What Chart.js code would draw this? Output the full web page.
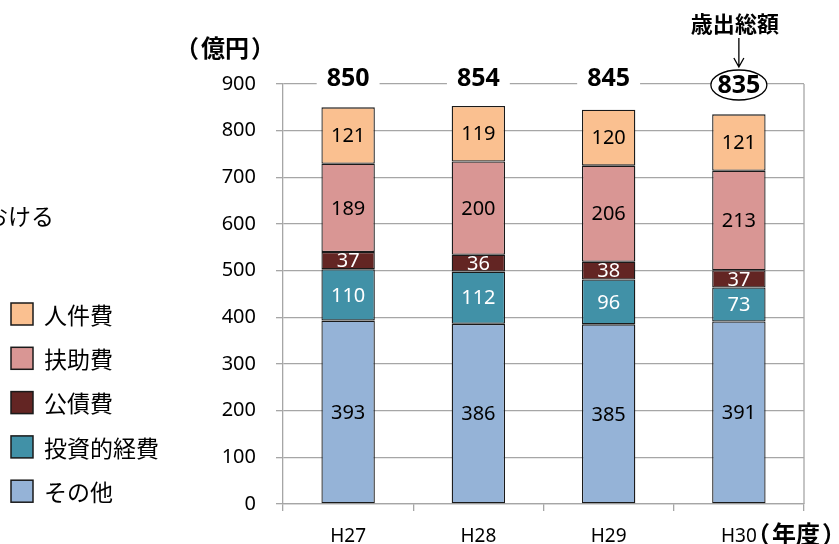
<!DOCTYPE html>
<html>
<head>
<meta charset="utf-8">
<script src="https://cdn.jsdelivr.net/npm/chart.js@4.4.1/dist/chart.umd.min.js"></script>
<style>
  html, body { margin: 0; padding: 0; background: #ffffff; }
  #wrap { width: 839px; height: 544px; position: relative; }
</style>
</head>
<body>
<div id="wrap"><canvas id="chart"></canvas></div>
<script>
// 年度
const years = ['H27', 'H28', 'H29', 'H30'];

// 性質別歳出（億円）
const sonota   = [393, 386, 385, 391]; // その他
const toushi   = [110, 112, 96, 73];   // 投資的経費
const kousai   = [37, 36, 38, 37];     // 公債費
const fujo     = [189, 200, 206, 213]; // 扶助費
const jinken   = [121, 119, 120, 121]; // 人件費

// 歳出総額（億円）
const totals = [850, 854, 845, 835];

// 縦軸の目盛
const yTicks = [0, 100, 200, 300, 400, 500, 600, 700, 800, 900];

const NUM_FONT = "'Noto Sans', 'Liberation Sans', sans-serif";
const JP_FONT = "'Noto Sans CJK JP', 'Noto Sans', sans-serif";
const GRID = '#a6a6a6';
const EDGE = '#1a1a1a';

const series = [
  { label: 'その他',     data: sonota, color: '#95b3d7', text: '#000000' },
  { label: '投資的経費', data: toushi, color: '#4191a7', text: '#ffffff' },
  { label: '公債費',     data: kousai, color: '#632523', text: '#ffffff' },
  { label: '扶助費',     data: fujo,   color: '#d99694', text: '#000000' },
  { label: '人件費',     data: jinken, color: '#fac090', text: '#000000' }
];

// 全角かっこで囲んだ見出しを詰めて書く（left は本文の左端）
function drawBracketed(ctx, word, left, y) {
  const w = ctx.measureText(word).width;
  ctx.textAlign = 'left';
  ctx.fillText(word, left, y);
  ctx.textAlign = 'right';
  ctx.fillText('（', left - 2, y);
  ctx.textAlign = 'left';
  ctx.fillText('）', left + w + 2, y);
  return w;
}

// 各区分の値を棒の中央に書く
const segmentLabels = {
  id: 'segmentLabels',
  afterDatasetsDraw(chart) {
    const ctx = chart.ctx;
    ctx.save();
    ctx.font = '20px ' + NUM_FONT;
    ctx.textAlign = 'center';
    ctx.textBaseline = 'middle';
    chart.data.datasets.forEach((ds, i) => {
      const meta = chart.getDatasetMeta(i);
      meta.data.forEach((bar, j) => {
        const cy = (bar.y + bar.base) / 2;
        ctx.fillStyle = series[i].text;
        ctx.fillText(String(ds.data[j]), bar.x, cy + 1);
      });
    });
    ctx.restore();
  }
};

// 枠線・総額・見出し・凡例
const decorations = {
  id: 'decorations',
  afterDraw(chart) {
    const ctx = chart.ctx;
    const area = chart.chartArea;
    const xs = chart.scales.x;
    const ys = chart.scales.y;
    ctx.save();

    // プロット領域の右端
    ctx.strokeStyle = GRID;
    ctx.lineWidth = 1.3;
    ctx.beginPath();
    ctx.moveTo(area.right, area.top);
    ctx.lineTo(area.right, area.bottom);
    ctx.stroke();

    // 歳出総額
    const topY = ys.getPixelForValue(yTicks[yTicks.length - 1]);
    ctx.font = 'bold 25px ' + NUM_FONT;
    ctx.textAlign = 'center';
    ctx.textBaseline = 'middle';
    totals.forEach((t, i) => {
      const cx = xs.getPixelForValue(i);
      const txt = String(t);
      const w = ctx.measureText(txt).width;
      const last = i === totals.length - 1;
      if (last) {
        ctx.fillStyle = '#ffffff';
        ctx.strokeStyle = '#000000';
        ctx.lineWidth = 1.3;
        ctx.beginPath();
        ctx.ellipse(cx, topY + 1, 28, 15, 0, 0, Math.PI * 2);
        ctx.fill();
        ctx.stroke();
      } else {
        ctx.fillStyle = '#ffffff';
        ctx.fillRect(cx - w / 2 - 10, topY - 4, w + 20, 8);
      }
      ctx.fillStyle = '#000000';
      ctx.fillText(txt, cx, last ? topY + 2 : topY - 5);
    });

    // 「歳出総額」と矢印
    const lastX = xs.getPixelForValue(totals.length - 1);
    ctx.font = 'bold 22px ' + JP_FONT;
    ctx.fillStyle = '#000000';
    ctx.textAlign = 'center';
    ctx.textBaseline = 'middle';
    ctx.fillText('歳出総額', lastX - 4, 24);
    ctx.strokeStyle = '#000000';
    ctx.lineWidth = 1.3;
    ctx.beginPath();
    ctx.moveTo(lastX, 38);
    ctx.lineTo(lastX, 67);
    ctx.moveTo(lastX - 5, 58);
    ctx.lineTo(lastX, 67);
    ctx.lineTo(lastX + 5, 58);
    ctx.stroke();

    // 単位
    ctx.font = 'bold 24px ' + JP_FONT;
    ctx.fillStyle = '#000000';
    drawBracketed(ctx, '億円', 201, 48);
    drawBracketed(ctx, '年度', 772, 534);

    // 見出しの末尾
    ctx.font = '23px ' + JP_FONT;
    ctx.textAlign = 'right';
    ctx.fillText('おける', 54, 216);

    // 凡例
    const rows = series.slice().reverse();
    ctx.font = '23px ' + JP_FONT;
    ctx.textAlign = 'left';
    rows.forEach((s, k) => {
      const cy = 314 + k * 44.3;
      ctx.fillStyle = s.color;
      ctx.fillRect(11, cy - 11, 22, 22);
      ctx.strokeStyle = EDGE;
      ctx.lineWidth = 1.5;
      ctx.strokeRect(11, cy - 11, 22, 22);
      ctx.fillStyle = '#000000';
      ctx.fillText(s.label, 44, cy + 1);
    });

    ctx.restore();
  }
};

new Chart(document.getElementById('chart'), {
  type: 'bar',
  data: {
    labels: years,
    datasets: series.map(s => ({
      label: s.label,
      data: s.data,
      backgroundColor: s.color,
      borderColor: EDGE,
      borderWidth: 1.3,
      borderSkipped: false,
      categoryPercentage: 1.0,
      barPercentage: 0.41
    }))
  },
  options: {
    responsive: true,
    maintainAspectRatio: false,
    devicePixelRatio: 1,
    animation: false,
    layout: { padding: { left: 0, top: 84, right: 35, bottom: 0 } },
    plugins: {
      legend: { display: false },
      tooltip: { enabled: false },
      title: { display: false }
    },
    scales: {
      x: {
        stacked: true,
        offset: true,
        grid: {
          drawOnChartArea: false,
          drawTicks: true,
          tickLength: 7,
          offset: true,
          color: GRID,
          lineWidth: 1.3
        },
        border: { display: true, color: GRID, width: 1.3 },
        ticks: {
          color: '#000000',
          font: { family: NUM_FONT, size: 19 },
          padding: 14,
          maxRotation: 0
        },
        afterFit(scale) { scale.height = 40; }
      },
      y: {
        stacked: true,
        min: yTicks[0],
        max: yTicks[yTicks.length - 1],
        afterBuildTicks(scale) { scale.ticks = yTicks.map(v => ({ value: v })); },
        grid: {
          color: GRID,
          lineWidth: 1.3,
          drawTicks: true,
          tickLength: 7
        },
        border: { display: true, color: GRID, width: 1.3 },
        ticks: {
          color: '#000000',
          font: { family: NUM_FONT, size: 20 },
          padding: 20
        },
        afterFit(scale) { scale.width = 283; }
      }
    }
  },
  plugins: [segmentLabels, decorations]
});
</script>
</body>
</html>
